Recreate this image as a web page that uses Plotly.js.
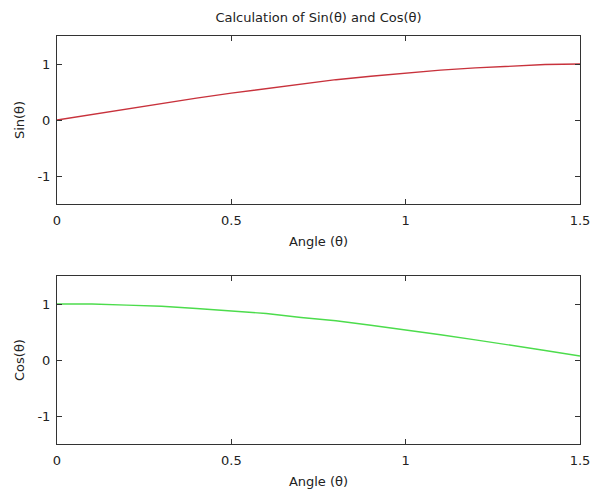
<!DOCTYPE html>
<html>
<head>
<meta charset="utf-8">
<script src="https://cdn.plot.ly/plotly-3.0.1.min.js"></script>
<style>
  html, body { margin: 0; padding: 0; background: #ffffff; }
  #chart { width: 602px; height: 492px; }
</style>
</head>
<body>
<div id="chart"></div>
<script>
// Sampled angles (radians) and the values computed at each
const angle = [0, 0.1, 0.2, 0.3, 0.4, 0.5, 0.6, 0.7, 0.8, 0.9, 1.0, 1.1, 1.2, 1.3, 1.4, 1.5];
const sinValues = [0, 0.10, 0.20, 0.30, 0.39, 0.48, 0.56, 0.64, 0.72, 0.78, 0.84, 0.89, 0.93, 0.96, 0.99, 1.00];
const cosValues = [1.00, 1.00, 0.98, 0.96, 0.92, 0.88, 0.83, 0.76, 0.70, 0.62, 0.54, 0.45, 0.36, 0.27, 0.17, 0.07];

// Tick positions and labels
const xTickVals = [0, 0.5, 1, 1.5];
const xTickText = ['0', '0.5', '1', '1.5'];
const yTickVals = [-1, 0, 1];
const yTickText = ['-1', '0', '1'];

const font = { family: 'DejaVu Sans, Verdana, sans-serif', size: 13, color: '#222' };

function xAxis(anchor) {
  return {
    anchor: anchor,
    range: [0, 1.5],
    tickvals: xTickVals,
    ticktext: xTickText,
    ticks: 'inside',
    ticklen: 5,
    tickcolor: '#333',
    ticklabelstandoff: 4,
    showline: true,
    linecolor: '#333',
    linewidth: 1,
    mirror: 'ticks',
    showgrid: false,
    zeroline: false,
    tickfont: font,
    title: { text: 'Angle (θ)', font: font, standoff: 10 }
  };
}

function yAxis(anchor, domain, label) {
  return {
    anchor: anchor,
    domain: domain,
    range: [-1.5, 1.5],
    tickvals: yTickVals,
    ticktext: yTickText,
    ticks: 'inside',
    ticklen: 5,
    tickcolor: '#333',
    ticklabelstandoff: 3,
    showline: true,
    linecolor: '#333',
    linewidth: 1,
    mirror: 'ticks',
    showgrid: false,
    zeroline: false,
    tickfont: font,
    title: { text: label, font: font, standoff: 9 }
  };
}

const traces = [
  {
    x: angle, y: sinValues, xaxis: 'x', yaxis: 'y',
    type: 'scatter', mode: 'lines',
    line: { color: '#c8323c', width: 1.4 },
    hoverinfo: 'skip'
  },
  {
    x: angle, y: cosValues, xaxis: 'x2', yaxis: 'y2',
    type: 'scatter', mode: 'lines',
    line: { color: '#4cdc4c', width: 1.4 },
    hoverinfo: 'skip'
  }
];

const layout = {
  width: 602,
  height: 492,
  margin: { l: 57, r: 22, t: 36, b: 48 },
  paper_bgcolor: '#ffffff',
  plot_bgcolor: '#ffffff',
  showlegend: false,
  font: font,
  title: {
    text: 'Calculation of Sin(θ) and Cos(θ)',
    font: font,
    xref: 'paper', x: 0.5, xanchor: 'center',
    yref: 'container', y: 1 - 17 / 492, yanchor: 'middle'
  },
  xaxis: xAxis('y'),
  yaxis: yAxis('x', [240 / 408, 1], 'Sin(θ)'),
  xaxis2: xAxis('y2'),
  yaxis2: yAxis('x2', [0, 168 / 408], 'Cos(θ)')
};

Plotly.newPlot('chart', traces, layout, { displayModeBar: false, staticPlot: true });
</script>
</body>
</html>
